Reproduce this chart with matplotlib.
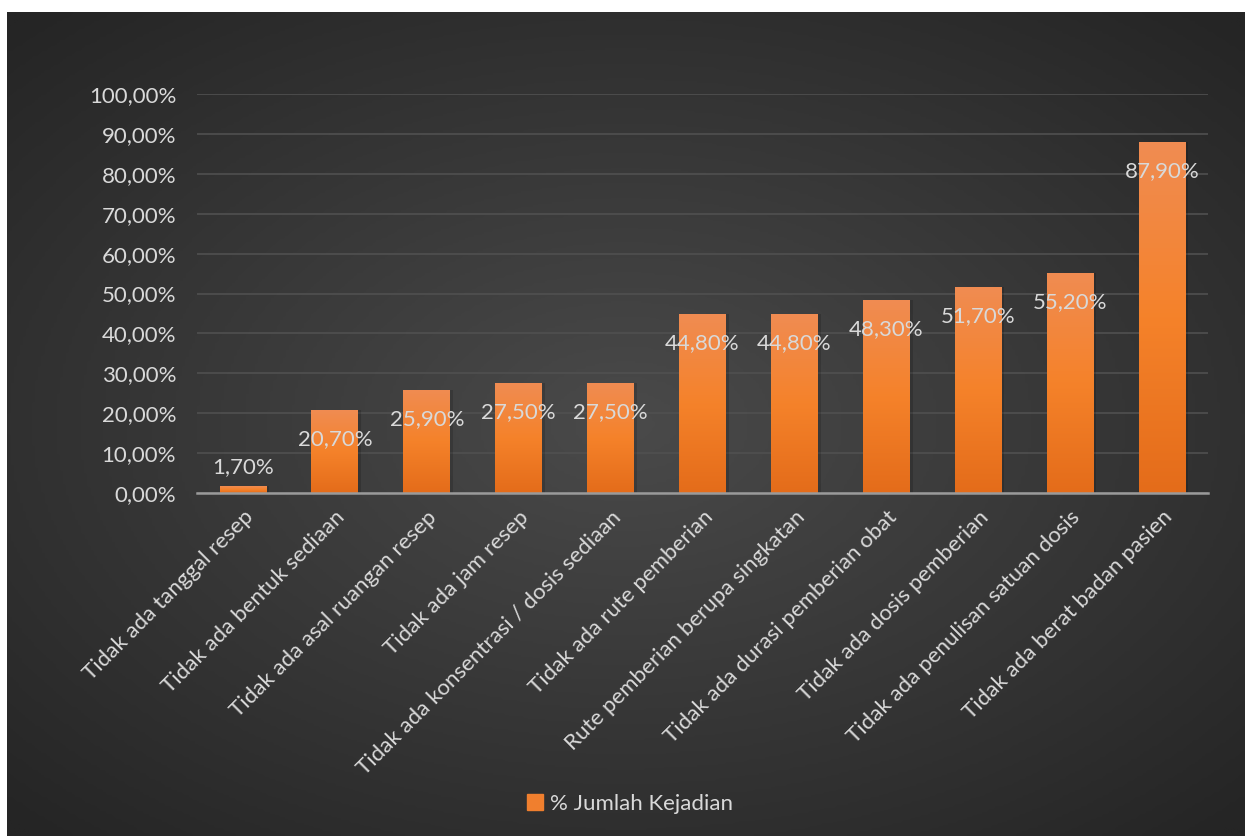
import matplotlib.pyplot as plt
import numpy as np
from matplotlib.colors import LinearSegmentedColormap
from matplotlib.patches import Rectangle

categories = [
    "Tidak ada tanggal resep",
    "Tidak ada bentuk sediaan",
    "Tidak ada asal ruangan resep",
    "Tidak ada jam resep",
    "Tidak ada konsentrasi / dosis sediaan",
    "Tidak ada rute pemberian",
    "Rute pemberian berupa singkatan",
    "Tidak ada durasi pemberian obat",
    "Tidak ada dosis pemberian",
    "Tidak ada penulisan satuan dosis",
    "Tidak ada berat badan pasien",
]
values = [1.7, 20.7, 25.9, 27.5, 27.5, 44.8, 44.8, 48.3, 51.7, 55.2, 87.9]
series_name = "% Jumlah Kejadian"
yticks = [0, 10, 20, 30, 40, 50, 60, 70, 80, 90, 100]


def pct(v):
    return f"{v:.2f}%".replace(".", ",")


plt.rcParams["font.family"] = ["Lato", "DejaVu Sans"]
text_color = "#d9d9d9"
fs = 16

W, H = 1245, 836
fig = plt.figure(figsize=(W / 100, H / 100), dpi=100)
fig.patch.set_facecolor("white")

# dark radial background panel
bg = fig.add_axes([7 / W, 0, 1 - 7 / W, (H - 12) / H])
bg.set_axis_off()
gx, gy = np.meshgrid(np.linspace(-1, 1, 400), np.linspace(-1, 1, 300))
r = np.sqrt((gx * 0.95) ** 2 + (gy * 1.0) ** 2)
shade = np.clip(1 - r / 1.35, 0, 1)
bg_cmap = LinearSegmentedColormap.from_list("bg", ["#252525", "#4a4a4a"])
bg.imshow(shade, cmap=bg_cmap, aspect="auto", extent=(0, 1, 0, 1), origin="lower")
bg.set_xlim(0, 1)
bg.set_ylim(0, 1)

ax = fig.add_axes([197 / W, (H - 493) / H, (1208 - 197) / W, (493 - 94) / H])
ax.patch.set_alpha(0)
x = np.arange(len(categories))
bar_w = 0.51
bar_cmap = LinearSegmentedColormap.from_list("bar", ["#e46c1a", "#f5822a", "#f08c52"])
grad = np.linspace(0, 1, 256).reshape(-1, 1)

bars = ax.bar(x, values, width=bar_w, color="none", zorder=3)
for b, v in zip(bars, values):
    x0 = b.get_x()
    # soft shadow
    ax.add_patch(Rectangle((x0 + 0.03, 0), bar_w, v, color="black", alpha=0.15, zorder=2, lw=0))
    im = ax.imshow(grad, cmap=bar_cmap, aspect="auto", origin="lower",
                   extent=(x0, x0 + bar_w, 0, v), zorder=3)
    im.set_clip_path(b)
    off = 14 if v < 6 else -21
    ax.annotate(pct(v), (x0 + bar_w / 2, v), xytext=(0, off), textcoords="offset points",
                ha="center", va="center", color=text_color, fontsize=fs, zorder=5)

ax.set_xlim(-0.5, len(categories) - 0.5)
ax.set_ylim(0, 100)
ax.set_yticks(yticks)
ax.set_yticklabels([pct(t) for t in yticks], color=text_color, fontsize=fs)
ax.grid(axis="y", color="#505050", lw=1.2, zorder=0)
ax.set_axisbelow(True)
ax.tick_params(axis="y", length=0, pad=15)
ax.tick_params(axis="x", length=0, pad=10)
ax.set_xticks(x)
ax.set_xticklabels(categories, rotation=45, ha="right", rotation_mode="anchor",
                   color=text_color, fontsize=fs)
for s in ["top", "right", "left"]:
    ax.spines[s].set_visible(False)
ax.spines["bottom"].set_color("#9a9a9a")
ax.spines["bottom"].set_linewidth(1.8)
ax.spines["bottom"].set_zorder(4)

handle = Rectangle((0, 0), 1, 1, color="#f07f2e")
leg = fig.legend([handle], [series_name], loc="center", bbox_to_anchor=(630 / W, 1 - 804 / H),
                 frameon=False, fontsize=fs, handlelength=0.7, handleheight=0.7,
                 handletextpad=0.3)
for t in leg.get_texts():
    t.set_color(text_color)

fig.savefig("out.png", dpi=100)
